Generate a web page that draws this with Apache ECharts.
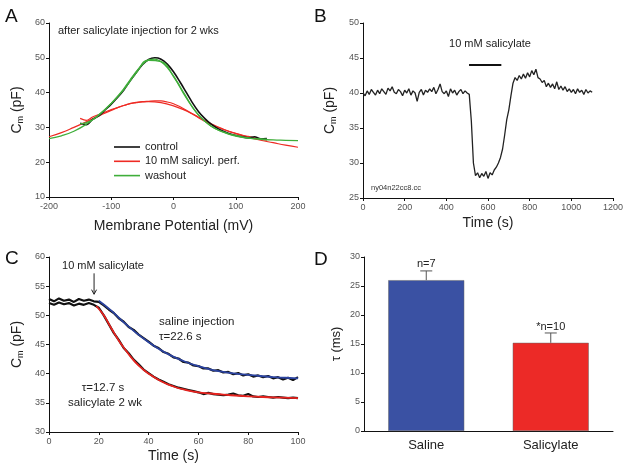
<!DOCTYPE html>
<html><head><meta charset="utf-8">
<script src="https://cdn.jsdelivr.net/npm/echarts@6/dist/echarts.min.js"></script>
<style>html,body{margin:0;padding:0;background:#fff}#c{width:629px;height:473px}</style>
</head><body><div id="c"></div>
<script>
// ---------- Panel A ----------
const aVolts = [-150,-140,-130,-120,-110,-100,-90,-80,-70,-60,-50,-40,-30,-20,-10,0,10,20,30,40,50,60,70,80,90,100,110,120,130,140,150];
const aControl = [31.2,30.8,32.3,33.3,35.0,36.7,38.6,40.7,43.3,45.7,48.0,49.5,50.0,49.6,48.2,46.0,43.2,40.2,37.2,34.6,32.6,31.0,29.8,28.9,28.2,27.7,27.3,27.0,27.3,26.7,26.8];
const aSalicyl = [32.6,32.0,33.0,33.7,34.4,35.1,35.7,36.3,36.8,37.1,37.4,37.5,37.6,37.6,37.3,36.8,36.0,35.0,33.9,32.8,31.8,30.9,30.1,29.4,28.8,28.3,27.8,27.4,27.0,26.6,26.3];
const aWashout = [31.0,31.4,32.2,33.5,35.1,36.9,38.9,41.1,43.6,46.0,48.1,49.4,49.6,48.9,47.2,44.8,41.9,38.9,36.0,33.6,31.8,30.4,29.4,28.7,28.1,27.7,27.3,27.0,26.8,26.7,26.6];
const aFitVolts = [-200,-180,-160,-140,-120,-100,-80,-60,-40,-20,0,20,40,60,80,100,120,140,160,180,200];
const aWashoutFit = [26.8,27.6,28.9,30.9,33.6,36.9,40.8,45.6,49.3,48.9,44.6,38.6,33.6,30.4,28.6,27.5,26.9,26.6,26.4,26.3,26.2];
const aSalicylFit = [27.3,28.5,30.0,31.6,33.3,34.9,36.3,37.2,37.4,37.1,36.2,34.8,33.0,31.1,29.5,28.2,27.2,26.3,25.6,24.9,24.3];
const aLegend = ['control','10 mM salicyl. perf.','washout'];

// ---------- Panel B ----------
const bStep = 10; // s between samples
const bTrace = [
 40.0,39.6,40.3,39.8,40.5,40.1,39.7,40.4,39.9,40.6,
 40.2,39.8,40.7,40.3,40.9,40.1,39.9,40.5,40.2,39.6,
 40.4,40.0,40.6,39.7,40.3,40.0,38.8,40.1,40.5,39.7,
 40.4,40.1,40.6,40.2,40.8,39.9,40.5,41.3,40.2,39.9,
 40.3,39.5,40.6,40.0,40.4,39.7,40.2,40.5,39.9,40.3,
 40.0,39.8,36.0,30.0,28.2,28.6,27.9,28.5,28.1,28.8,
 27.8,28.6,28.3,29.0,29.4,30.0,30.8,32.0,34.0,36.2,
 37.6,39.6,41.4,42.2,41.8,42.5,42.0,42.7,42.1,42.9,
 42.3,43.2,42.6,43.4,42.2,42.0,41.5,41.8,40.9,41.4,
 40.8,41.3,40.6,41.6,40.5,41.0,40.4,40.9,40.2,40.6,
 40.1,40.5,39.9,40.6,40.1,40.4,39.8,40.5,40.0,40.3,
 40.1];
const bBarTimes = [509, 664];
const bBarLevel = [44, 44];

// ---------- Panel C ----------
const cStep = 2; // s between samples
const cSaline = [
 52.8,52.4,52.9,52.5,52.7,52.3,52.8,52.5,52.7,52.4,
 52.3,51.7,51.0,50.4,49.5,48.9,48.0,47.5,46.7,46.1,
 45.5,44.8,44.4,43.7,43.4,42.8,42.6,42.0,41.9,41.4,
 41.3,40.9,40.9,40.5,40.6,40.2,40.3,39.9,40.1,39.7,
 39.9,39.5,39.7,39.4,39.6,39.2,39.4,39.0,39.3,38.9,
 39.4];
const cSalicylate = [
 52.1,51.8,52.2,51.9,52.1,51.7,52.0,51.8,52.1,51.8,
 51.3,50.0,48.5,47.0,45.8,44.4,43.5,42.4,41.6,40.7,
 40.1,39.5,39.0,38.6,38.2,37.9,37.6,37.4,37.2,37.0,
 36.8,36.5,36.7,36.5,36.4,36.3,36.4,36.6,36.3,36.2,
 36.5,36.1,36.0,36.1,36.0,35.9,36.0,35.9,35.8,35.9,
 35.8];
const cSalineFitT = [20,25,30,35,40,45,50,55,60,65,70,75,80,85,90,95,100];
const cSalineFit = [52.5,50.8,48.8,47.0,45.4,44.0,42.9,42.0,41.3,40.7,40.3,40.0,39.8,39.6,39.4,39.3,39.2];
const cSalicylFitT = [19,22,25,28,30,33,36,40,45,50,55,60,65,70,80,90,100];
const cSalicylFit = [51.6,50.0,47.8,45.7,44.5,42.8,41.4,40.0,38.7,37.8,37.2,36.8,36.6,36.4,36.1,35.95,35.8];
const cArrowX = [18.1, 18.1];
const cArrowY = [57.2, 53.7];
const cHeadX = [17.1, 18.1, 19.1];
const cHeadY = [54.4, 53.6, 54.4];

// ---------- Panel D ----------
const dCats = ['Saline','Salicylate'];
const dMeans = [26.0, 15.2];
const dErrTop = [27.6, 16.9];
const dLabels = ['n=7','*n=10'];

const FONT = '"Liberation Sans", Arial, sans-serif';
const zip = (xs, ys) => xs.map((x, i) => [x, ys[i]]);
const trace = (step, ys) => ys.map((y, i) => [i * step, y]);
const tickFmt = v => String(v);

function valAxis(gi, min, max, interval, extra) {
  return Object.assign({
    type: 'value', gridIndex: gi, min, max, interval,
    axisLine: {show: true, onZero: false, lineStyle: {color: '#111', width: 1}},
    axisTick: {show: true, length: 3, lineStyle: {color: '#111'}},
    splitLine: {show: false},
    axisLabel: {fontSize: 9, color: '#555', fontFamily: FONT, margin: 4, formatter: tickFmt}
  }, extra || {});
}
const xLabel = {fontSize: 9, color: '#555', fontFamily: FONT, margin: 5, formatter: tickFmt};
const cmName = '{a|C}{s|m}{a| (pF)}';
const cmRich = {rich: {a: {fontSize: 14, color: '#222', fontFamily: FONT, lineHeight: 16},
                       s: {fontSize: 9, color: '#222', fontFamily: FONT, lineHeight: 9, verticalAlign: 'bottom'}}};
const xName = (txt, gap) => ({name: txt, nameLocation: 'middle', nameGap: gap,
  nameTextStyle: {fontSize: 14, color: '#222', fontFamily: FONT}});

const chart = echarts.init(document.getElementById('c'), null, {renderer: 'canvas'});
const lineBase = {type: 'line', symbol: 'none', animation: false};

chart.setOption({
  animation: false,
  backgroundColor: '#fff',
  grid: [
    {left: 49, top: 23, width: 249, height: 174},
    {left: 363, top: 23, width: 250, height: 175},
    {left: 49, top: 257, width: 249, height: 175},
    {left: 364, top: 257, width: 249, height: 174}
  ],
  xAxis: [
    valAxis(0, -200, 200, 100, Object.assign(xName('Membrane Potential (mV)', 22), {axisLabel: xLabel})),
    valAxis(1, 0, 1200, 200, Object.assign(xName('Time (s)', 18), {axisLabel: xLabel})),
    valAxis(2, 0, 100, 20, Object.assign(xName('Time (s)', 17), {axisLabel: xLabel})),
    {type: 'category', gridIndex: 3, data: dCats,
     axisLine: {show: true, lineStyle: {color: '#111', width: 1}},
     axisTick: {show: false},
     axisLabel: {fontSize: 13, color: '#222', fontFamily: FONT, margin: 8}}
  ],
  yAxis: [
    valAxis(0, 10, 60, 10, {name: cmName, nameLocation: 'middle', nameGap: 24, nameRotate: 90, nameTextStyle: cmRich}),
    valAxis(1, 25, 50, 5, {name: cmName, nameLocation: 'middle', nameGap: 25, nameRotate: 90, nameTextStyle: cmRich}),
    valAxis(2, 30, 60, 5, {name: cmName, nameLocation: 'middle', nameGap: 24, nameRotate: 90, nameTextStyle: cmRich}),
    valAxis(3, 0, 30, 5, {name: 'τ (ms)', nameLocation: 'middle', nameGap: 21, nameRotate: 90,
      nameTextStyle: {fontSize: 13, color: '#222', fontFamily: FONT}})
  ],
  legend: {
    data: aLegend, orient: 'vertical', left: 114, top: 141, itemGap: 2.3,
    itemWidth: 26, itemHeight: 1.6, icon: 'rect', padding: 0,
    textStyle: {fontSize: 11, color: '#222', fontFamily: FONT, lineHeight: 12}
  },
  series: [
    // Panel A
    Object.assign({}, lineBase, {name: '10 mM salicyl. perf.', xAxisIndex: 0, yAxisIndex: 0, data: zip(aFitVolts, aSalicylFit), smooth: true, lineStyle: {color: '#ee2b24', width: 1.2}, itemStyle: {color: '#ee2b24'}}),
    Object.assign({}, lineBase, {name: '10 mM salicyl. perf.', xAxisIndex: 0, yAxisIndex: 0, data: zip(aVolts, aSalicyl), smooth: 0.3, lineStyle: {color: '#ee2b24', width: 1.2}, itemStyle: {color: '#ee2b24'}}),
    Object.assign({}, lineBase, {name: 'control', xAxisIndex: 0, yAxisIndex: 0, data: zip(aVolts, aControl), smooth: 0.3, lineStyle: {color: '#111', width: 1.6}, itemStyle: {color: '#111'}}),
    Object.assign({}, lineBase, {name: 'washout', xAxisIndex: 0, yAxisIndex: 0, data: zip(aFitVolts, aWashoutFit), smooth: true, lineStyle: {color: '#3fae3a', width: 1.3}, itemStyle: {color: '#3fae3a'}}),
    Object.assign({}, lineBase, {name: 'washout', xAxisIndex: 0, yAxisIndex: 0, data: zip(aVolts, aWashout), smooth: 0.3, lineStyle: {color: '#3fae3a', width: 1.3}, itemStyle: {color: '#3fae3a'}}),
    // Panel B
    Object.assign({}, lineBase, {name: 'bTrace', xAxisIndex: 1, yAxisIndex: 1, data: trace(bStep, bTrace), lineStyle: {color: '#222', width: 1.3}}),
    Object.assign({}, lineBase, {name: 'bBar', xAxisIndex: 1, yAxisIndex: 1, data: zip(bBarTimes, bBarLevel), lineStyle: {color: '#111', width: 2}}),
    // Panel C
    Object.assign({}, lineBase, {name: 'cSaline', xAxisIndex: 2, yAxisIndex: 2, data: trace(cStep, cSaline), lineStyle: {color: '#111', width: 2.2}}),
    Object.assign({}, lineBase, {name: 'cSalicylate', xAxisIndex: 2, yAxisIndex: 2, data: trace(cStep, cSalicylate), lineStyle: {color: '#111', width: 2.2}}),
    Object.assign({}, lineBase, {name: 'cSalineFit', xAxisIndex: 2, yAxisIndex: 2, data: zip(cSalineFitT, cSalineFit), smooth: true, lineStyle: {color: '#2b43a0', width: 1.8}}),
    Object.assign({}, lineBase, {name: 'cSalicylFit', xAxisIndex: 2, yAxisIndex: 2, data: zip(cSalicylFitT, cSalicylFit), smooth: true, lineStyle: {color: '#e8231f', width: 1.8}}),
    Object.assign({}, lineBase, {name: 'cArrow', xAxisIndex: 2, yAxisIndex: 2, data: zip(cArrowX, cArrowY), lineStyle: {color: '#222', width: 1}}),
    Object.assign({}, lineBase, {name: 'cHead', xAxisIndex: 2, yAxisIndex: 2, data: zip(cHeadX, cHeadY), lineStyle: {color: '#222', width: 1}}),
    // Panel D
    {type: 'bar', xAxisIndex: 3, yAxisIndex: 3, barWidth: 76, animation: false,
     data: dMeans.map((v, i) => ({value: v, itemStyle: {color: i === 0 ? '#3a51a3' : '#ec2a27', borderColor: '#666', borderWidth: 0.5}}))},
    {type: 'custom', xAxisIndex: 3, yAxisIndex: 3, animation: false,
     data: dMeans.map((v, i) => [i, v, dErrTop[i]]),
     renderItem: function (params, api) {
       const i = api.value(0);
       const lo = api.coord([i, api.value(1)]);
       const hi = api.coord([i, api.value(2)]);
       const st = {stroke: '#555', lineWidth: 1};
       return {type: 'group', children: [
         {type: 'line', shape: {x1: lo[0], y1: lo[1], x2: hi[0], y2: hi[1]}, style: st},
         {type: 'line', shape: {x1: hi[0] - 6, y1: hi[1], x2: hi[0] + 6, y2: hi[1]}, style: st},
         {type: 'text', style: {text: dLabels[i], x: hi[0], y: hi[1] - 1, textAlign: 'center', textVerticalAlign: 'bottom',
           fontSize: 11, fill: '#222', fontFamily: FONT}}
       ]};
     }}
  ],
  graphic: [
    {type: 'text', left: 5, top: 7, style: {text: 'A', fontSize: 19, fill: '#111', fontFamily: FONT}},
    {type: 'text', left: 314, top: 7, style: {text: 'B', fontSize: 19, fill: '#111', fontFamily: FONT}},
    {type: 'text', left: 5, top: 249, style: {text: 'C', fontSize: 19, fill: '#111', fontFamily: FONT}},
    {type: 'text', left: 314, top: 250, style: {text: 'D', fontSize: 19, fill: '#111', fontFamily: FONT}},
    {type: 'text', x: 58, y: 31, style: {text: 'after salicylate injection for 2 wks', fontSize: 11, fill: '#222', fontFamily: FONT, textVerticalAlign: 'middle'}},
    {type: 'text', x: 490, y: 44, style: {text: '10 mM salicylate', fontSize: 11, fill: '#222', fontFamily: FONT, textAlign: 'center', textVerticalAlign: 'middle'}},
    {type: 'text', x: 371, y: 188, style: {text: 'ny04n22cc8.cc', fontSize: 7.5, fill: '#333', fontFamily: FONT, textVerticalAlign: 'middle'}},
    {type: 'text', x: 103, y: 266, style: {text: '10 mM salicylate', fontSize: 11, fill: '#222', fontFamily: FONT, textAlign: 'center', textVerticalAlign: 'middle'}},
    {type: 'text', x: 159, y: 322, style: {text: 'saline injection', fontSize: 11.5, fill: '#222', fontFamily: FONT, textVerticalAlign: 'middle'}},
    {type: 'text', x: 159, y: 337, style: {text: 'τ=22.6 s', fontSize: 11.5, fill: '#222', fontFamily: FONT, textVerticalAlign: 'middle'}},
    {type: 'text', x: 103, y: 388, style: {text: 'τ=12.7 s', fontSize: 11.5, fill: '#222', fontFamily: FONT, textAlign: 'center', textVerticalAlign: 'middle'}},
    {type: 'text', x: 105, y: 403, style: {text: 'salicylate 2 wk', fontSize: 11.5, fill: '#222', fontFamily: FONT, textAlign: 'center', textVerticalAlign: 'middle'}}
  ]
});
</script></body></html>
